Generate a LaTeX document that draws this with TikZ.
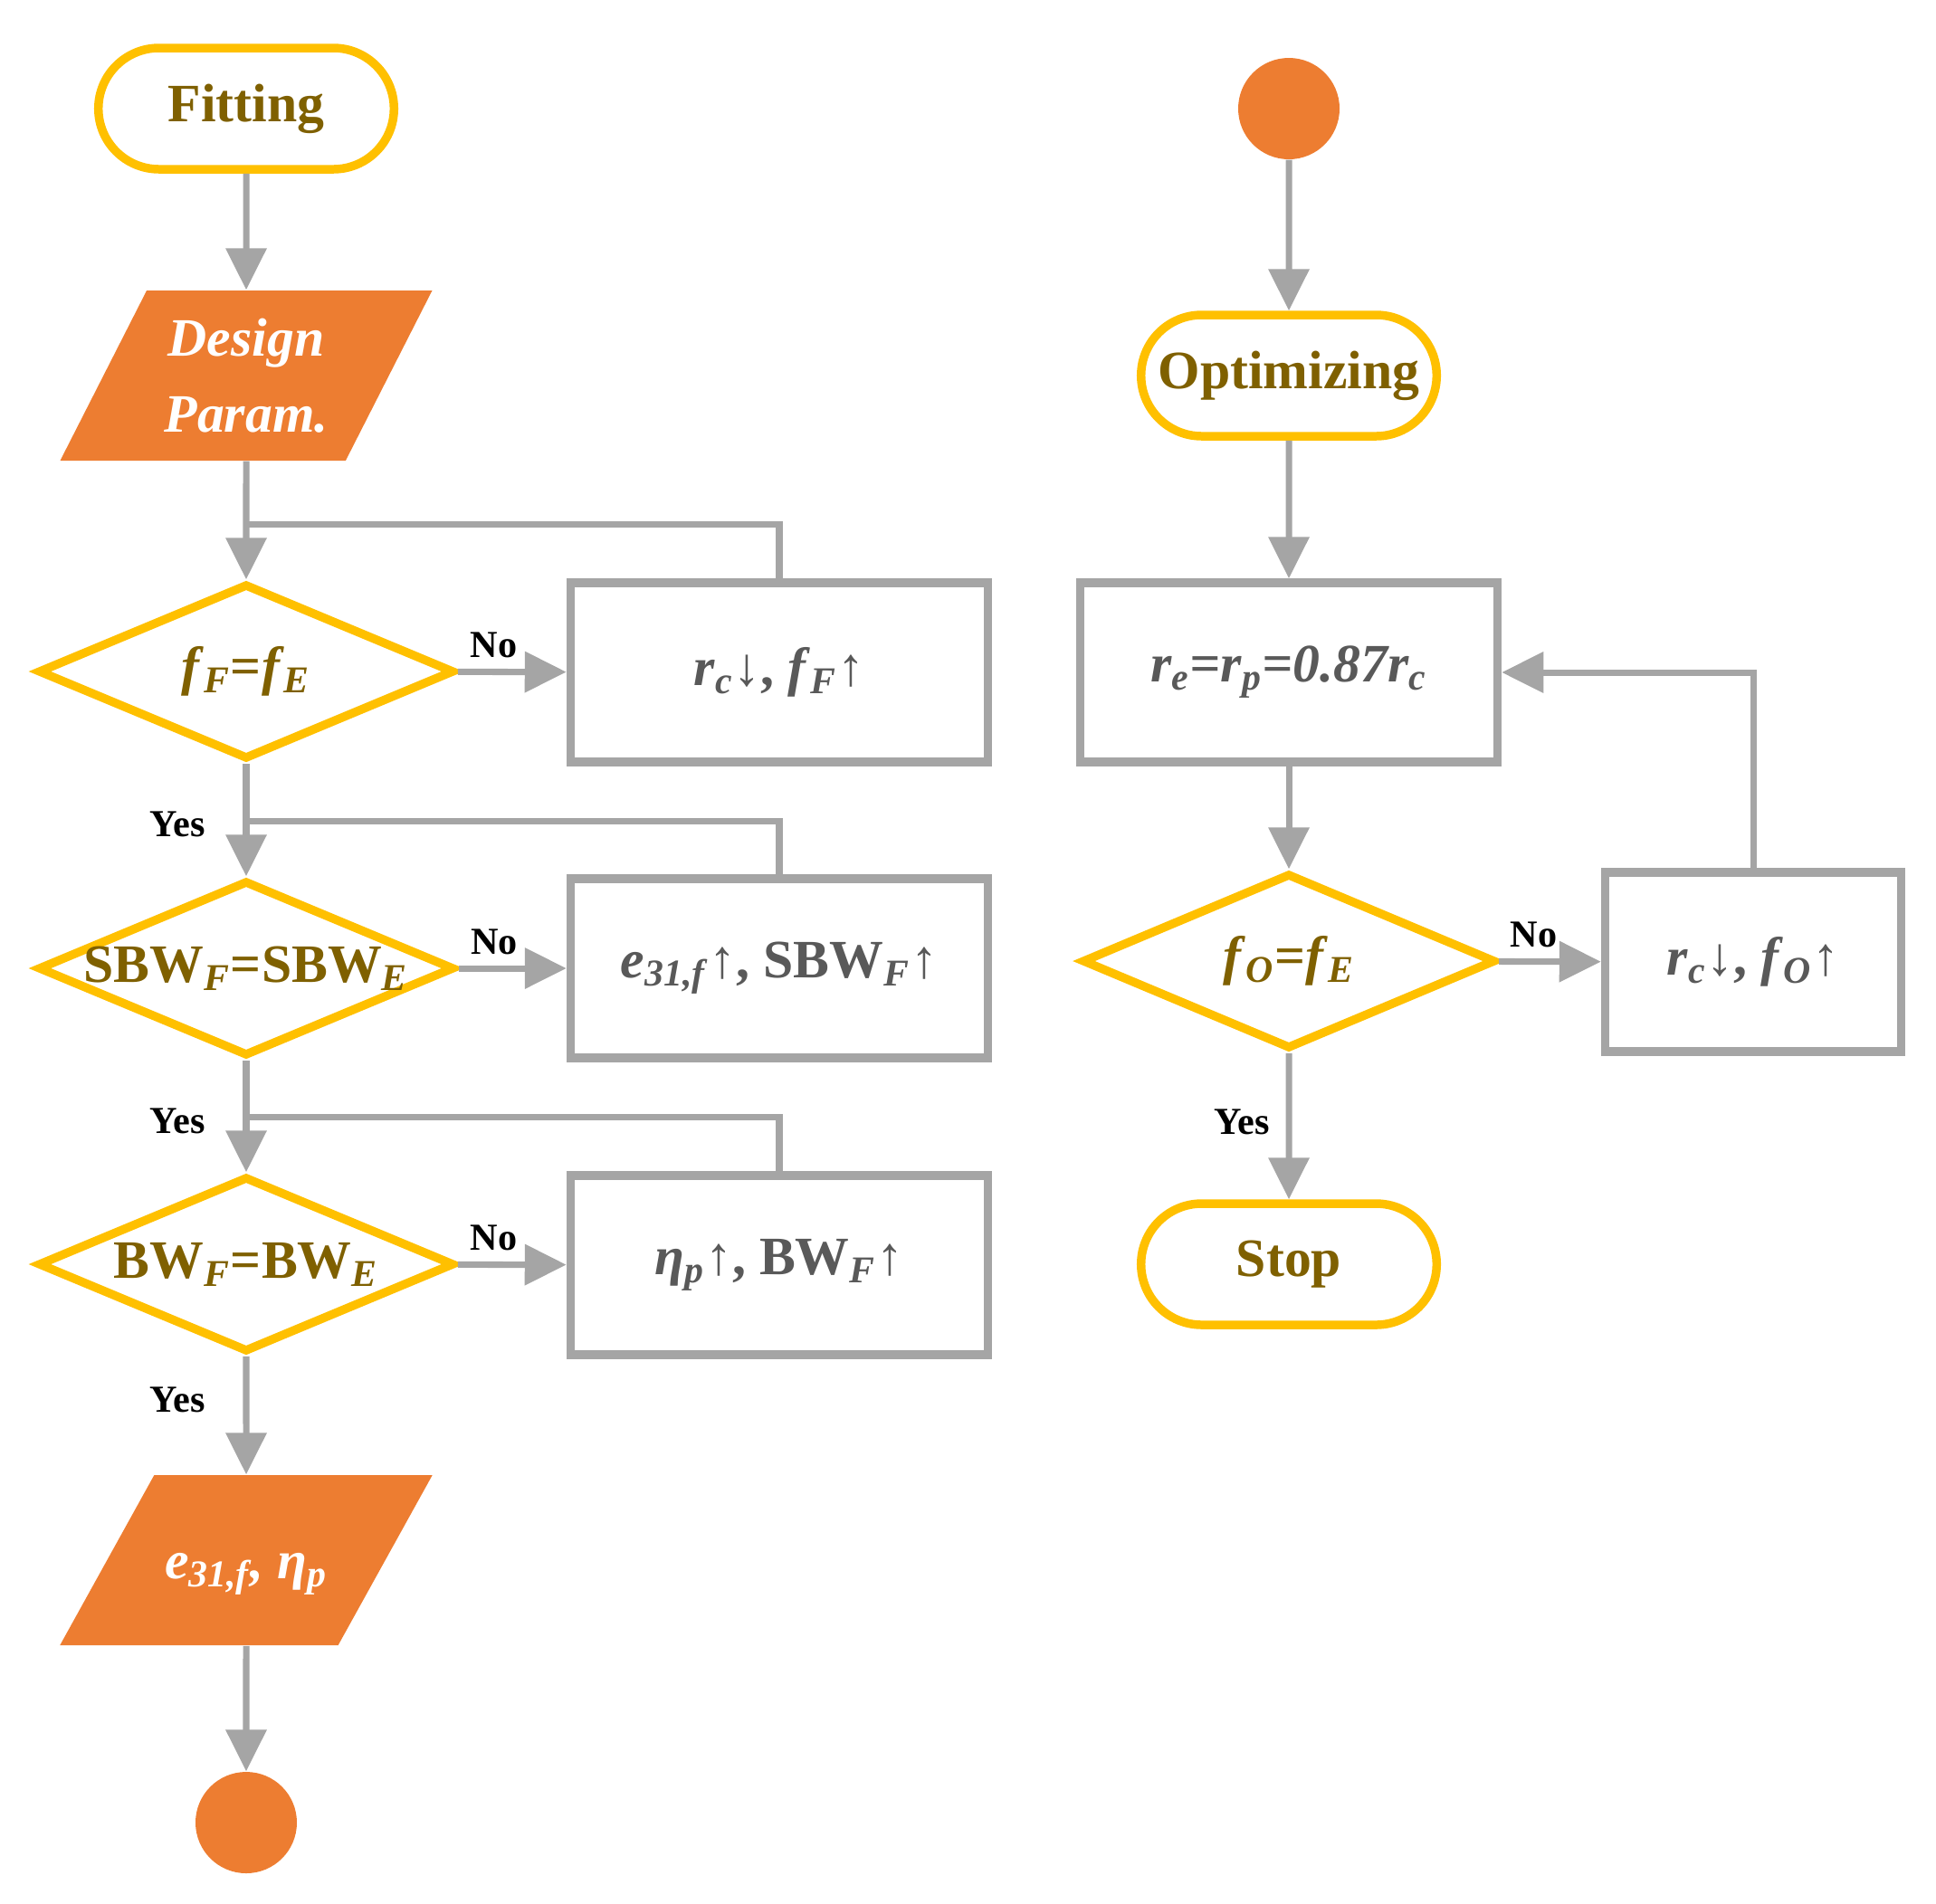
\documentclass[tikz,border=0pt]{standalone}
\usepackage{fontspec}
\setmainfont{Liberation Serif}
\usetikzlibrary{shapes.geometric,shapes.misc,arrows.meta}

\definecolor{gold}{HTML}{FFC000}
\definecolor{orng}{HTML}{ED7D31}
\definecolor{lgray}{HTML}{A5A5A5}
\definecolor{brn}{HTML}{7F6000}
\definecolor{dgray}{HTML}{595959}

\newcommand{\lsub}[1]{\textsubscript{\textit{#1}}}
\newcommand{\upar}{\textmd{↑}}
\newcommand{\dnar}{\textmd{↓}}
\newcommand{\wide}[1]{\makebox[0pt]{#1}}
\newcommand{\tall}{\rule[-0.5cm]{0pt}{1.4cm}}

\begin{document}
\begin{tikzpicture}[
  big/.style={font=\fontsize{17}{20}\selectfont\bfseries},
  terminal/.style={big, rounded rectangle, draw=gold, line width=2.7pt,
    minimum width=3.5cm, minimum height=1.34cm, text=brn},
  decision/.style={big, diamond, draw=gold, line width=2.7pt, inner sep=0pt,
    minimum width=4.6cm, minimum height=1.94cm, text=brn},
  process/.style={big, rectangle, draw=lgray, line width=2.7pt,
    minimum width=4.61cm, minimum height=1.98cm, text=dgray},
  data/.style={big, trapezium, trapezium left angle=57.5, trapezium right angle=122.5,
    trapezium stretches body, fill=orng, minimum width=4.11cm, minimum height=1.88cm,
    text=white, align=center, font=\fontsize{17}{24}\selectfont\bfseries\itshape},
  dot/.style={circle, fill=orng, minimum size=1.12cm},
  line/.style={draw=lgray, line width=2pt},
  arrow/.style={line, -{Triangle[length=0.46cm,width=0.44cm]}},
  lbl/.style={font=\fontsize{12}{14}\selectfont\bfseries}
]

  \useasboundingbox (0,0) rectangle (21.39,-21.03);

  % fitting column
  \node [terminal] (fit) at (2.72,  -1.20)  {Fitting};
  \node [data]     (dp)  at (2.72,  -4.15)  {Design\\Param.};
  \node [decision] (d1)  at (2.72,  -7.42)  {\wide{\textit{f}\lsub{F}=\textit{f}\lsub{E}}};
  \node [decision] (d2)  at (2.72,  -10.70) {\wide{SBW\lsub{F}=SBW\lsub{E}}};
  \node [decision] (d3)  at (2.72,  -13.97) {\wide{BW\lsub{F}=BW\lsub{E}}};
  \node [data]     (out) at (2.72,  -17.24) {\tall\textit{e}\lsub{31,f}, \textit{η}\lsub{p}};
  \node [dot]      (end) at (2.72,  -20.14) {};

  % adjustments
  \node [process]  (b1)  at (8.61,  -7.43)  {\textit{r}\lsub{c}\dnar, \textit{f}\lsub{F}\upar};
  \node [process]  (b2)  at (8.61,  -10.70) {\textit{e}\lsub{31,f}\upar, SBW\lsub{F}\upar};
  \node [process]  (b3)  at (8.61,  -13.98) {\textit{η}\lsub{p}\upar, BW\lsub{F}\upar};

  % optimizing column
  \node [dot]      (start) at (14.24, -1.20)  {};
  \node [terminal] (opt)   at (14.24, -4.15)  {Optimizing};
  \node [process]  (re)    at (14.24, -7.43)  {\textit{r\lsub{e}=r\lsub{p}=0.87r\lsub{c}}};
  \node [decision, minimum width=4.57cm]
                   (fo)    at (14.24, -10.62) {\wide{\textit{f}\lsub{O}=\textit{f}\lsub{E}}};
  \node [process, minimum width=3.27cm]
                   (bo)    at (19.37, -10.63) {\textit{r}\lsub{c}\dnar, \textit{f}\lsub{O}\upar};
  \node [terminal] (stop)  at (14.24, -13.97) {Stop};

  % loop junctions
  \coordinate (j1) at ([yshift=0.61cm]d1.north);
  \coordinate (j2) at ([yshift=0.61cm]d2.north);
  \coordinate (j3) at ([yshift=0.61cm]d3.north);

  % left arrows
  \draw [arrow] (fit) -- (dp);
  \draw [arrow] (dp)  -- (d1);
  \draw [arrow] (d1)  -- node [lbl, left=0.3cm, pos=0.54] {Yes} (d2);
  \draw [arrow] (d2)  -- node [lbl, left=0.3cm, pos=0.54] {Yes} (d3);
  \draw [arrow] (d3)  -- node [lbl, left=0.3cm, pos=0.37] {Yes} (out);
  \draw [arrow] (out) -- (end);

  \draw [arrow] (d1) -- node [lbl, above, pos=0.33] {No} (b1);
  \draw [arrow] (d2) -- node [lbl, above, pos=0.33] {No} (b2);
  \draw [arrow] (d3) -- node [lbl, above, pos=0.33] {No} (b3);

  % feedback lines
  \draw [line] (b1.north) |- (j1);
  \draw [line] (b2.north) |- (j2);
  \draw [line] (b3.north) |- (j3);

  % right arrows
  \draw [arrow] (start) -- (opt);
  \draw [arrow] (opt)   -- (re);
  \draw [arrow] (re)    -- (fo);
  \draw [arrow] (fo)    -- node [lbl, above, pos=0.34] {No} (bo);
  \draw [arrow] (fo)    -- node [lbl, left=0.06cm, pos=0.47] {Yes} (stop);
  \draw [arrow] (bo.north) |- (re.east);

\end{tikzpicture}
\end{document}
